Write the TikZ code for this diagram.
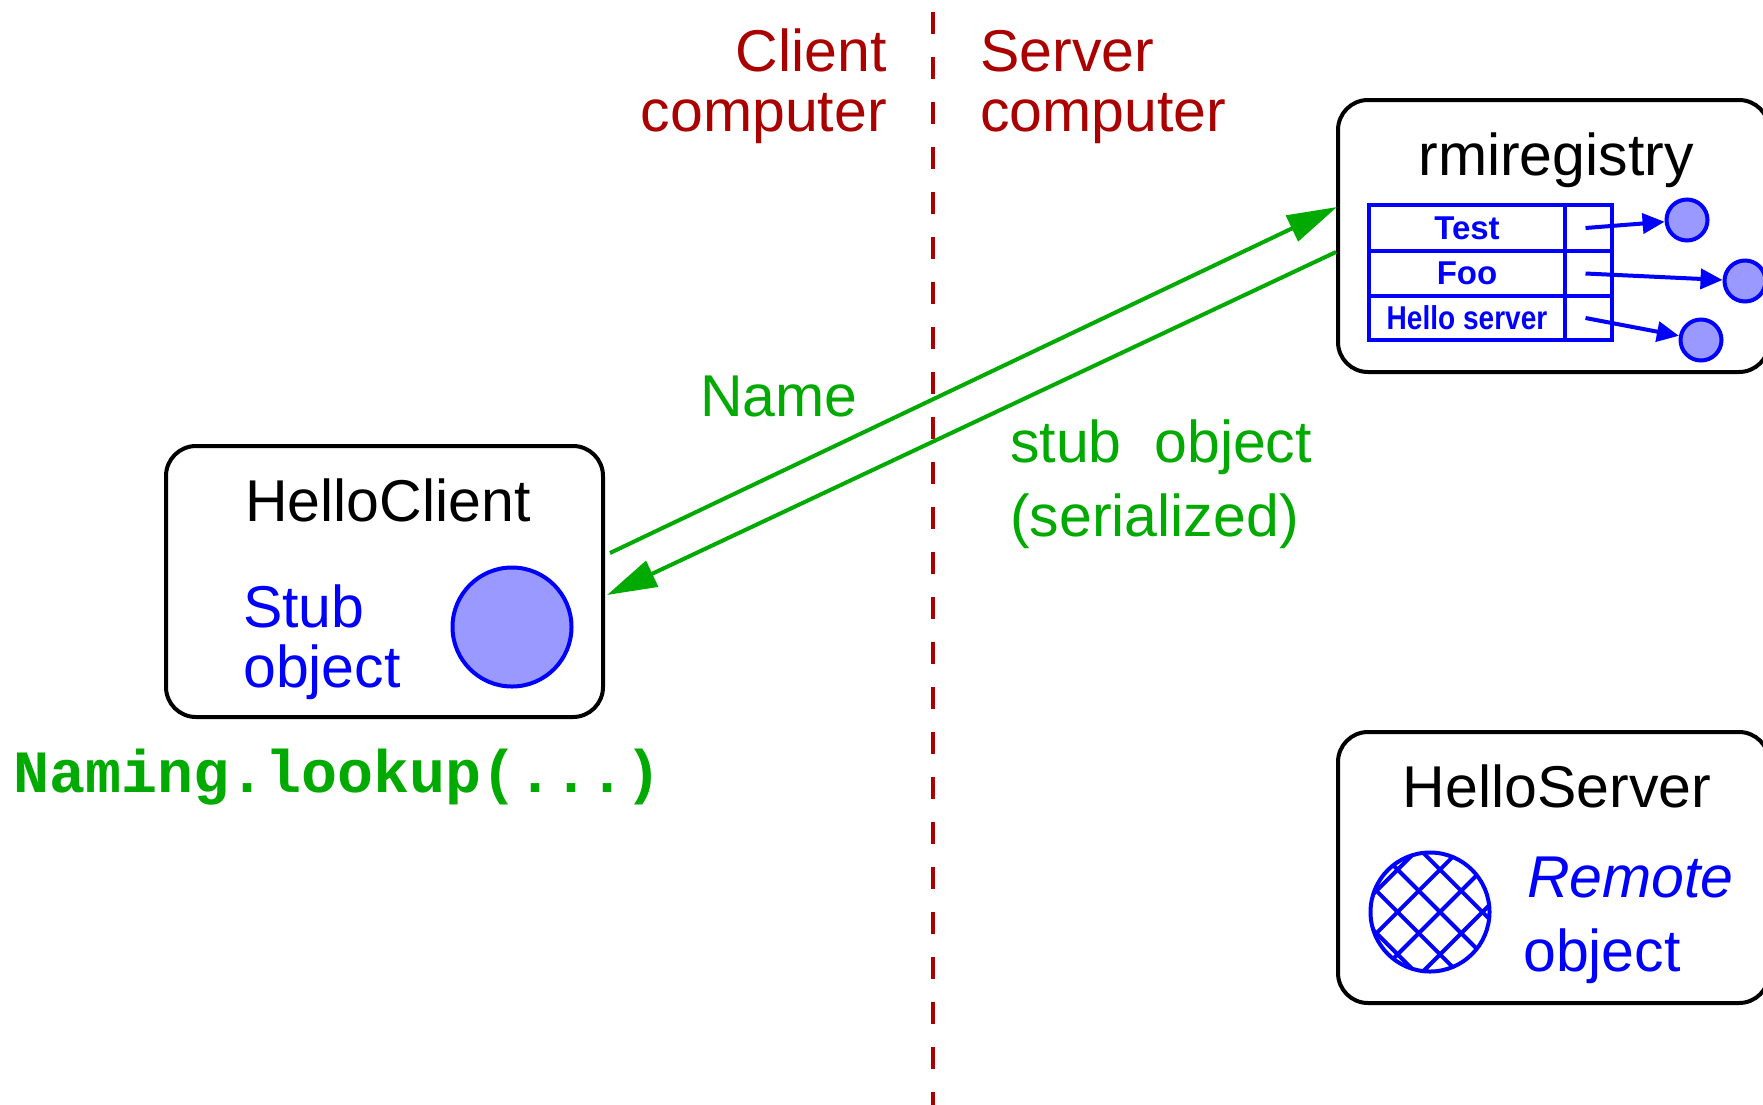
\documentclass[tikz,border=0pt]{standalone}
\usepackage{fontspec}
\setmainfont{Liberation Sans}
\setmonofont{Liberation Mono}
\usepackage{graphicx}
\usetikzlibrary{arrows.meta}
\definecolor{dred}{RGB}{170,0,0}
\definecolor{dgreen}{RGB}{0,170,0}
\definecolor{lblue}{RGB}{153,153,255}
\definecolor{pblue}{RGB}{0,0,255}
\newcommand{\bigf}{\fontsize{59}{70}\selectfont}
\newcommand{\cellf}{\fontsize{33}{38}\selectfont\bfseries}
\begin{document}
\begin{tikzpicture}[x=1pt,y=-1pt,
  lbl/.style={inner sep=0pt, font=\bigf},
  box/.style={draw=black, line width=4pt, rounded corners=30pt, inner sep=0pt},
  obj/.style={circle, draw=pblue, fill=lblue, line width=4pt, inner sep=0pt},
  cell/.style={draw=pblue, line width=3.5pt, inner sep=0pt, text=pblue, font=\cellf},
  barrow/.style={draw=pblue, line width=4pt, -{Triangle[length=22pt,width=20pt]}},
  garrow/.style={draw=dgreen, line width=4pt, -{Triangle[length=50pt,width=28pt]}},
  hatch/.style={draw=pblue, line width=4pt},
  sep/.style={draw=dred, line width=4pt, dash pattern=on 22pt off 23pt}
]
\clip (0,0) rectangle (1763,1104);
\fill[white] (0,0) rectangle (1763,1104);

% separator
\coordinate (sepTop) at (933,12);
\coordinate (sepBot) at (933,1110);
\draw[sep] (sepTop) -- (sepBot);

\node[lbl, text=dred, anchor=base east] (cl1) at (887,71) {Client};
\node[lbl, text=dred, anchor=base east] (cl2) at (887,131) {computer};
\node[lbl, text=dred, anchor=base west] (sv1) at (980,71) {Server};
\node[lbl, text=dred, anchor=base west] (sv2) at (980,131) {computer};

% client box
\node[box, minimum width=437pt, minimum height=271pt] (client) at (384.5,581.5) {};
\node[lbl, anchor=base] (hc) at (388,521) {HelloClient};
\node[lbl, text=pblue, anchor=base west] (stub1) at (243,627) {Stub};
\node[lbl, text=pblue, anchor=base west] (stub2) at (243,687) {object};
\node[obj, minimum size=119pt] (stubobj) at (512,627) {};
\node[lbl, text=dgreen, anchor=base west, font=\fontsize{60}{70}\ttfamily\bfseries\selectfont] (lookup) at (13,792) {Naming.lookup(...)};

% registry box
\node[box, minimum width=431pt, minimum height=272pt] (rmi) at (1553.5,236) {};
\node[lbl, anchor=base] (rmit) at (1556,175) {rmiregistry};
\node[cell, minimum width=196pt, minimum height=46pt] (t1) at (1467,228) {Test};
\node[cell, minimum width=47pt, minimum height=46pt] (t1r) at (1588.5,228) {};
\node[cell, minimum width=196pt, minimum height=45pt] (t2) at (1467,273.5) {Foo};
\node[cell, minimum width=47pt, minimum height=45pt] (t2r) at (1588.5,273.5) {};
\node[cell, minimum width=196pt, minimum height=44pt] (t3) at (1467,318) {\scalebox{0.85}[1]{Hello server}};
\node[cell, minimum width=47pt, minimum height=44pt] (t3r) at (1588.5,318) {};
\node[obj, minimum size=41pt] (o1) at (1687,220) {};
\node[obj, minimum size=41pt] (o2) at (1745,281) {};
\node[obj, minimum size=41pt] (o3) at (1701,340) {};
\draw[barrow] ([xshift=-3pt]t1r.center) -- (o1);
\draw[barrow] ([xshift=-3pt]t2r.center) -- (o2);
\draw[barrow] ([xshift=-3pt]t3r.center) -- (o3);

% server box
\node[box, minimum width=431pt, minimum height=271pt] (server) at (1553.5,867.5) {};
\node[lbl, anchor=base] (hs) at (1557,807) {HelloServer};
\node[circle, draw=pblue, line width=4pt, minimum size=119pt, inner sep=0pt] (remote) at (1430,912) {};
\begin{scope}
  \clip (remote.center) circle[radius=59.5pt];
  \foreach \k in {-4,...,4} {
    \draw[hatch] (remote.center) ++(\k*42.4+10,0) ++(-110,-110) -- ++(220,220);
    \draw[hatch] (remote.center) ++(\k*42.4+10,0) ++(-110,110) -- ++(220,-220);
  }
\end{scope}
\node[lbl, text=pblue, anchor=base west, font=\bigf\itshape] (rem1) at (1527,897) {Remote};
\node[lbl, text=pblue, anchor=base west] (rem2) at (1523,971) {object};

% messages
\draw[garrow] ([xshift=5pt,yshift=28.5pt]client.east) -- ([xshift=1pt,yshift=29pt]rmi.west);
\draw[garrow] ([yshift=-16pt]rmi.west) -- ([xshift=2pt,yshift=-13.5pt]client.east);
\node[lbl, text=dgreen, anchor=base west] (nm) at (700,416) {Name};
\node[lbl, text=dgreen, anchor=base west] (so1) at (1010,462) {stub\ \ object};
\node[lbl, text=dgreen, anchor=base west] (so2) at (1010,536) {(serialized)};
\end{tikzpicture}
\end{document}
